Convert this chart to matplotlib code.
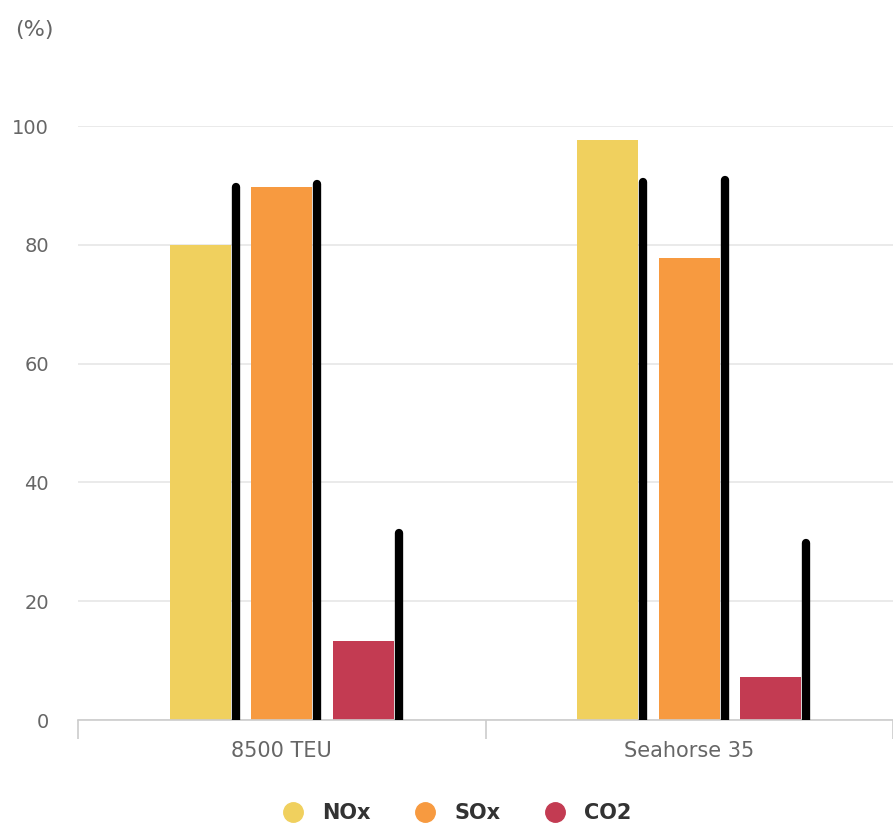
import matplotlib.pyplot as plt
import numpy as np
from matplotlib.lines import Line2D

plt.rcParams['font.family'] = ['DejaVu Sans']

# Data
categories = ['8500 TEU', 'Seahorse 35']
series = ['NOx', 'SOx', 'CO2']
nox = [80.0, 97.6]
sox = [89.7, 77.7]
co2 = [13.3, 7.2]
# heights of the black marker lines drawn beside each bar
marker_nox = [89.8, 90.6]
marker_sox = [90.2, 90.9]
marker_co2 = [31.4, 29.8]
yticks = [0, 20, 40, 60, 80, 100]

colors = ['#f0d05e', '#f79a40', '#c33b52']
values = [nox, sox, co2]
markers = [marker_nox, marker_sox, marker_co2]

fig = plt.figure(figsize=(8.93, 8.25), dpi=100)
ax = fig.add_axes([78 / 893, 105 / 825, 815 / 893, 594 / 825])

x = np.arange(len(categories))
width = 0.15
step = 0.2
for i, (vals, mk, c) in enumerate(zip(values, markers, colors)):
    pos = x + (i - 1) * step
    ax.bar(pos, vals, width=width, color=c, zorder=2)
    ax.vlines(pos + width / 2 + 0.012, -0.8, mk, color='black', linewidth=6,
              capstyle='round', zorder=3)

ax.set_xlim(-0.5, 1.5)
ax.set_ylim(0, 100)
ax.set_yticks(yticks)
ax.grid(axis='y', color='#e6e6e6', linewidth=1.2, zorder=0)
for s in ['top', 'right', 'left']:
    ax.spines[s].set_visible(False)
ax.spines['bottom'].set_color('#cccccc')
ax.spines['bottom'].set_linewidth(1.2)

ax.set_xticks(x)
ax.set_xticklabels(categories)
ax.set_xticks([-0.5, 0.5, 1.5], minor=True)
ax.tick_params(axis='x', which='major', length=0, pad=15, labelsize=15, labelcolor='#666666')
ax.tick_params(axis='x', which='minor', length=14, color='#cccccc', width=1.2)
ax.tick_params(axis='y', length=0, pad=21, labelsize=14, labelcolor='#666666')

fig.text(15 / 893, 1 - 30 / 825, '(%)', fontsize=16, color='#666666', va='center', ha='left')

handles = [Line2D([], [], marker='o', linestyle='none', markersize=14,
                  markerfacecolor=c, markeredgecolor=c) for c in colors]
fig.legend(handles, series, loc='center', bbox_to_anchor=(458 / 893, 1 - 813 / 825),
           ncol=3, frameon=False, handlelength=0.8, handletextpad=1.0, columnspacing=2.2,
           prop={'size': 15, 'weight': 'bold'}, labelcolor='#333333')

fig.savefig('out.png', dpi=100)
